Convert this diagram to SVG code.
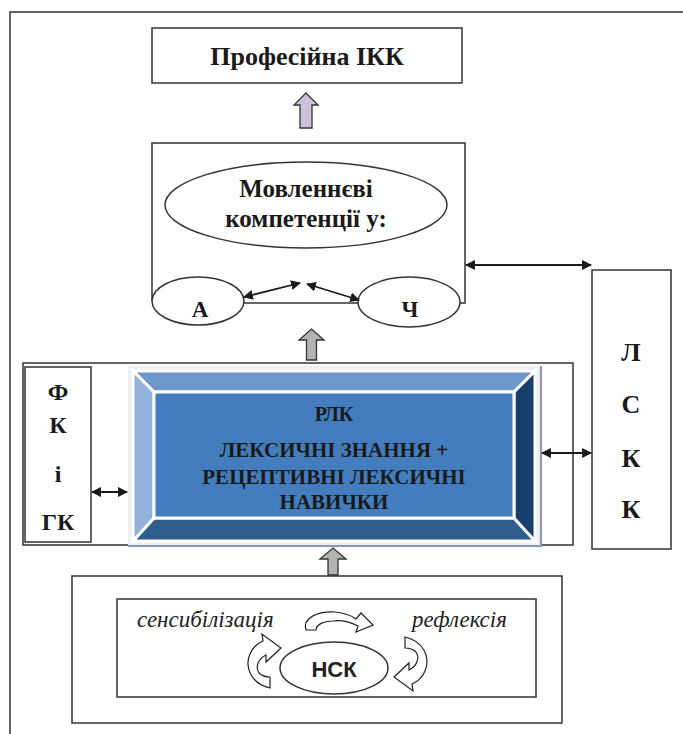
<svg xmlns="http://www.w3.org/2000/svg" width="683" height="734" viewBox="0 0 683 734">
<defs>
<style>
.box{fill:#fff;stroke:#333;stroke-width:1.5}
.ln{fill:none;stroke:#333;stroke-width:1.5}
.b{font-family:"Liberation Serif",serif;font-weight:bold;fill:#1a1a1a;text-anchor:middle}
.it{font-family:"Liberation Serif",serif;font-style:italic;fill:#222;font-size:23px}
.dbl{fill:none;stroke:#1a1a1a;stroke-width:1.8;marker-start:url(#ah);marker-end:url(#ah)}
.blk{fill:#fff;stroke:#222;stroke-width:1.2}
.bev{stroke:#fff;stroke-width:3;stroke-linejoin:miter}
</style>
<marker id="ah" viewBox="0 0 10 10" refX="9" refY="5" markerWidth="5.5" markerHeight="5.5" orient="auto-start-reverse" markerUnits="strokeWidth">
<path d="M0,0 L10,5 L0,10 Z" fill="#1a1a1a"/>
</marker>
</defs>

<g id="frame">
<path class="ln" d="M10,734 L10,12 L683,12" stroke-width="1.3"/>
</g>

<g id="ikk">
<rect class="box" x="152" y="28" width="310" height="55"/>
<text class="b" x="307" y="65" font-size="26">Професійна ІКК</text>
</g>

<g id="speech">
<path class="ln" d="M152,301 L152,143 L465,143 L465,303 L459,303"/>
<line class="ln" x1="243" y1="303" x2="359" y2="303"/>
<ellipse class="box" cx="306" cy="205" rx="141" ry="43"/>
<text class="b" x="306" y="197" font-size="25">Мовленнєві</text>
<text class="b" x="306" y="227" font-size="25">компетенції у:</text>
</g>

<g id="A">
<ellipse class="box" cx="198" cy="301" rx="46" ry="24"/>
<text class="b" x="200" y="317" font-size="23">А</text>
</g>

<g id="CH">
<ellipse class="box" cx="409" cy="302" rx="51" ry="25"/>
<text class="b" x="410" y="317" font-size="23">Ч</text>
</g>

<g id="container">
<rect class="box" x="23" y="363" width="550" height="182"/>
</g>

<g id="fkgk">
<rect class="box" x="25" y="367" width="66" height="175"/>
<text class="b" x="58" y="400" font-size="24">Ф</text>
<text class="b" x="58" y="433" font-size="24">К</text>
<text class="b" x="58" y="482" font-size="24">і</text>
<text class="b" x="58" y="530" font-size="24">ГК</text>
</g>

<g id="rlk">
<rect x="128" y="366" width="414" height="181" fill="#8e95b0"/>
<rect x="128" y="366" width="412" height="179" fill="#eeeff3"/>
<polygon class="bev" points="133,371 535,371 514,392 154,392" fill="#6b98c9"/>
<polygon class="bev" points="133,541 535,541 514,518 154,518" fill="#2f5d8e"/>
<polygon class="bev" points="133,371 154,392 154,518 133,541" fill="#92b2d9"/>
<polygon class="bev" points="535,371 514,392 514,518 535,541" fill="#163f6b"/>
<rect x="154" y="392" width="360" height="126" fill="#437dbd" stroke="#fff" stroke-width="3"/>
<text class="b" x="334" y="421" font-size="20">РЛК</text>
<text class="b" x="334" y="457" font-size="21">ЛЕКСИЧНІ ЗНАННЯ +</text>
<text class="b" x="334" y="484" font-size="21">РЕЦЕПТИВНІ ЛЕКСИЧНІ</text>
<text class="b" x="334" y="509" font-size="21">НАВИЧКИ</text>
</g>

<g id="lskk">
<rect class="box" x="592" y="270" width="79" height="279"/>
<text class="b" x="631" y="361" font-size="26">Л</text>
<text class="b" x="631" y="413" font-size="26">С</text>
<text class="b" x="631" y="467" font-size="26">К</text>
<text class="b" x="631" y="518" font-size="26">К</text>
</g>

<g id="nsk-block">
<rect class="box" x="72" y="576" width="490" height="147"/>
<rect class="box" x="117" y="599" width="419" height="98" stroke-width="1.3"/>
<text class="it" x="137" y="627">сенсибілізація</text>
<text class="it" x="412" y="627">рефлексія</text>
<path class="blk" d="M306,630 C302,618 318,611 335,612 C345,613 352,616 356,619 L361,613 L373,625 L356,632 L358,626 C350,622 340,620 333,621 C323,621 316,625 316,630 Z"/>
<path class="blk" d="M270,688 C252,684 244,668 250,654 C253,647 258,643 263,641 L262,634 L281,648 L266,662 L266,655 C258,659 255,667 259,673 C262,676 266,677 270,677 Z"/>
<path class="blk" transform="matrix(-1,0,0,-1,675,1325)" d="M270,688 C252,684 244,668 250,654 C253,647 258,643 263,641 L262,634 L281,648 L266,662 L266,655 C258,659 255,667 259,673 C262,676 266,677 270,677 Z"/>
<ellipse class="box" cx="334" cy="668" rx="54" ry="26" stroke-width="1.3"/>
<text x="334" y="677" font-family="Liberation Sans, sans-serif" font-weight="bold" font-size="22" fill="#222" text-anchor="middle">НСК</text>
</g>

<g id="connectors">
<polygon points="306,93 318,105 312,105 312,128 300,128 300,105 294,105" fill="#ccc1da" stroke="#333" stroke-width="1.3"/>
<polygon points="311.5,329 324,340 316.5,340 316.5,360 306.5,360 306.5,340 299,340" fill="#b3b3b3" stroke="#333" stroke-width="1.3"/>
<polygon points="333,548 346,559 338,559 338,575 328,575 328,559 320,559" fill="#b3b3b3" stroke="#333" stroke-width="1.3"/>
<line class="dbl" x1="244" y1="297" x2="300" y2="283"/>
<line class="dbl" x1="307" y1="284" x2="359" y2="300"/>
<line class="dbl" x1="466" y1="265" x2="591" y2="265"/>
<line class="dbl" x1="92" y1="492" x2="127" y2="492"/>
<line class="dbl" x1="542" y1="453" x2="591" y2="453"/>
</g>
</svg>
